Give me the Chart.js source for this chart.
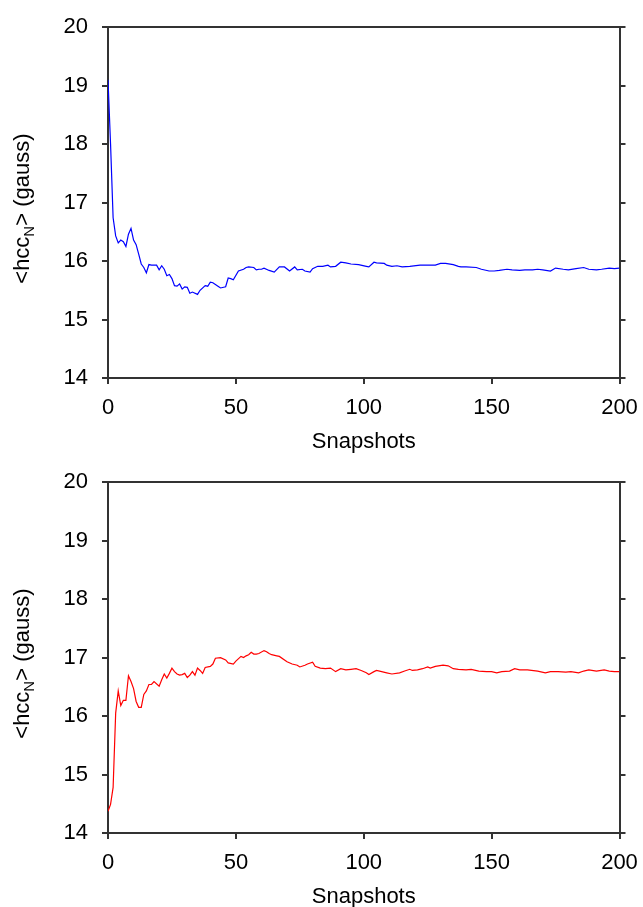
<!DOCTYPE html>
<html lang="en">
<head>
    <meta charset="UTF-8">
    <title>Average hcc_N per snapshot</title>
    <style>
        html, body { margin: 0; padding: 0; background: #fff; overflow: hidden; }
        canvas { display: block; }
    </style>
</head>
<body>
    <canvas id="topChart" width="643" height="455"></canvas>
    <canvas id="bottomChart" width="643" height="455"></canvas>

    <script src="https://cdn.jsdelivr.net/npm/chart.js"></script>
    <script>
        // axis ticks
        const xTicks = [0, 50, 100, 150, 200];
        const yTicks = [14, 15, 16, 17, 18, 19, 20];

        // upper run (blue)
        const blueSnap = [0, 1, 2, 3, 4, 5, 6, 7, 8, 9, 10, 11, 12, 13, 14, 15, 16, 17, 19, 20,
            21, 22, 23, 24, 25, 26, 27, 28, 29, 30, 31, 32, 33, 35, 36, 38, 39, 40, 41, 43,
            44, 46, 47, 48, 49, 51, 53, 54, 55, 57, 58, 59, 60, 61, 63, 65, 67, 69, 71, 73,
            74, 76, 77, 79, 80, 82, 84, 86, 87, 89, 91, 93, 95, 98, 101, 102, 104, 105, 108, 109,
            111, 113, 115, 118, 122, 126, 128, 130, 132, 135, 137, 138, 140, 144, 146, 149, 151, 153, 156, 158,
            161, 163, 166, 168, 170, 173, 175, 178, 180, 183, 186, 188, 191, 193, 196, 198, 200];
        const blueHcc = [19.10, 18.00, 16.74, 16.43, 16.31, 16.36, 16.33, 16.25, 16.46, 16.56, 16.36, 16.28, 16.12, 15.95, 15.89, 15.80, 15.94, 15.93, 15.93, 15.85,
            15.92, 15.86, 15.75, 15.77, 15.70, 15.58, 15.57, 15.61, 15.52, 15.56, 15.55, 15.45, 15.47, 15.43, 15.50, 15.58, 15.57, 15.64, 15.63, 15.57,
            15.54, 15.56, 15.71, 15.70, 15.68, 15.83, 15.86, 15.89, 15.90, 15.89, 15.85, 15.86, 15.86, 15.88, 15.84, 15.81, 15.90, 15.90, 15.83, 15.90,
            15.85, 15.86, 15.83, 15.81, 15.87, 15.91, 15.91, 15.93, 15.90, 15.91, 15.98, 15.97, 15.95, 15.94, 15.91, 15.90, 15.98, 15.97, 15.96, 15.93,
            15.91, 15.92, 15.90, 15.91, 15.93, 15.93, 15.93, 15.96, 15.96, 15.94, 15.91, 15.90, 15.90, 15.89, 15.86, 15.83, 15.83, 15.84, 15.86, 15.85,
            15.84, 15.85, 15.85, 15.86, 15.85, 15.83, 15.88, 15.86, 15.85, 15.87, 15.89, 15.86, 15.85, 15.86, 15.88, 15.87, 15.88];

        // lower run (red)
        const redSnap = [0, 1, 2, 3, 4, 5, 6, 7, 8, 9, 10, 11, 12, 13, 14, 15, 16, 17, 18, 20,
            21, 22, 23, 24, 25, 26, 27, 28, 29, 30, 31, 32, 33, 34, 35, 36, 37, 38, 40, 41,
            42, 44, 46, 47, 49, 50, 52, 53, 54, 55, 56, 57, 58, 59, 61, 62, 63, 64, 66, 67,
            70, 72, 74, 75, 77, 78, 80, 81, 83, 85, 87, 89, 91, 93, 95, 97, 99, 101, 102, 104,
            105, 107, 109, 111, 114, 116, 118, 119, 121, 123, 125, 126, 128, 131, 133, 135, 137, 140, 142, 145,
            148, 150, 152, 154, 157, 159, 161, 164, 168, 171, 173, 176, 179, 181, 184, 186, 188, 191, 194, 196,
            198, 200];
        const redHcc = [14.37, 14.49, 14.78, 16.05, 16.43, 16.18, 16.27, 16.27, 16.69, 16.59, 16.47, 16.25, 16.15, 16.15, 16.37, 16.43, 16.54, 16.54, 16.59, 16.51,
            16.62, 16.72, 16.65, 16.73, 16.82, 16.76, 16.72, 16.70, 16.71, 16.73, 16.66, 16.70, 16.76, 16.70, 16.82, 16.78, 16.73, 16.83, 16.85, 16.89,
            16.99, 17.00, 16.96, 16.91, 16.89, 16.94, 17.02, 17.00, 17.03, 17.05, 17.09, 17.06, 17.06, 17.07, 17.12, 17.10, 17.07, 17.05, 17.03, 17.02,
            16.93, 16.89, 16.87, 16.84, 16.87, 16.89, 16.92, 16.85, 16.82, 16.81, 16.82, 16.76, 16.81, 16.79, 16.80, 16.81, 16.78, 16.74, 16.71, 16.76,
            16.78, 16.76, 16.74, 16.72, 16.74, 16.77, 16.80, 16.78, 16.79, 16.81, 16.84, 16.82, 16.85, 16.87, 16.86, 16.81, 16.80, 16.79, 16.80, 16.77,
            16.76, 16.76, 16.74, 16.76, 16.77, 16.81, 16.79, 16.79, 16.77, 16.74, 16.76, 16.76, 16.75, 16.76, 16.74, 16.77, 16.79, 16.77, 16.79, 16.77,
            16.76, 16.76];

        const FONT = '"Liberation Sans", Arial, Helvetica, sans-serif';
        const AXIS = '#333333';

        // y-axis title with a subscript N, drawn rotated next to the axis
        const yTitle = {
            id: 'yTitle',
            afterDraw(chart) {
                const ctx = chart.ctx;
                const area = chart.chartArea;
                const big = '22px ' + FONT;
                const small = '15px ' + FONT;
                const parts = [['<hcc', big, 0], ['N', small, 5], ['> (gauss)', big, 0]];
                let total = 0;
                parts.forEach(p => { ctx.font = p[1]; total += ctx.measureText(p[0]).width; });
                ctx.save();
                ctx.translate(29, (area.top + area.bottom) / 2 + 6 + total / 2);
                ctx.rotate(-Math.PI / 2);
                ctx.fillStyle = '#000';
                ctx.textBaseline = 'alphabetic';
                ctx.textAlign = 'left';
                let x = 0;
                parts.forEach(p => {
                    ctx.font = p[1];
                    ctx.fillText(p[0], x, p[2]);
                    x += ctx.measureText(p[0]).width;
                });
                ctx.restore();
            }
        };

        function makeChart(id, xs, ys, color) {
            const points = xs.map((x, i) => ({ x: x, y: ys[i] }));
            const tickFont = { family: FONT, size: 22 };
            const setX = s => { s.ticks = xTicks.map(v => ({ value: v })); };
            const setY = s => { s.ticks = yTicks.map(v => ({ value: v })); };
            return new Chart(document.getElementById(id), {
                type: 'line',
                data: {
                    datasets: [{
                        data: points,
                        borderColor: color,
                        borderWidth: 1.2,
                        pointRadius: 0,
                        tension: 0,
                        fill: false
                    }]
                },
                options: {
                    responsive: false,
                    animation: false,
                    layout: { padding: { top: 25, left: 0, right: 0, bottom: 0 } },
                    plugins: { legend: { display: false }, tooltip: { enabled: false } },
                    scales: {
                        x: {
                            type: 'linear', position: 'bottom',
                            min: xTicks[0], max: xTicks[xTicks.length - 1],
                            afterBuildTicks: setX,
                            // keep the frame fixed; the edge labels may overhang
                            afterFit: s => { s.height = 77; s.paddingLeft = 0; s.paddingRight = 0; },
                            grid: { drawOnChartArea: false, tickLength: 6, color: AXIS, lineWidth: 2 },
                            border: { color: AXIS, width: 2 },
                            ticks: { font: tickFont, color: '#000', padding: 11, maxRotation: 0 },
                            title: { display: true, text: 'Snapshots', font: tickFont, color: '#000', padding: { top: 0, bottom: 0 } }
                        },
                        xTop: {
                            type: 'linear', position: 'top',
                            min: xTicks[0], max: xTicks[xTicks.length - 1],
                            afterFit: s => { s.height = 0; },
                            grid: { drawOnChartArea: false, drawTicks: false },
                            border: { color: AXIS, width: 2 },
                            ticks: { display: false }
                        },
                        y: {
                            position: 'left',
                            min: yTicks[0], max: yTicks[yTicks.length - 1],
                            afterBuildTicks: setY,
                            afterFit: s => { s.width = 108; },
                            grid: { drawOnChartArea: false, tickLength: 6, color: AXIS, lineWidth: 2 },
                            border: { color: AXIS, width: 2 },
                            ticks: { font: tickFont, color: '#000', padding: 14 }
                        },
                        yRight: {
                            position: 'right',
                            min: yTicks[0], max: yTicks[yTicks.length - 1],
                            afterBuildTicks: setY,
                            afterFit: s => { s.width = 23.5; },
                            grid: { drawOnChartArea: false, tickLength: 6, color: AXIS, lineWidth: 2 },
                            border: { color: AXIS, width: 2 },
                            ticks: { display: false }
                        }
                    }
                },
                plugins: [yTitle]
            });
        }

        makeChart('topChart', blueSnap, blueHcc, '#0000ff');
        makeChart('bottomChart', redSnap, redHcc, '#ff0000');
    </script>
</body>
</html>
